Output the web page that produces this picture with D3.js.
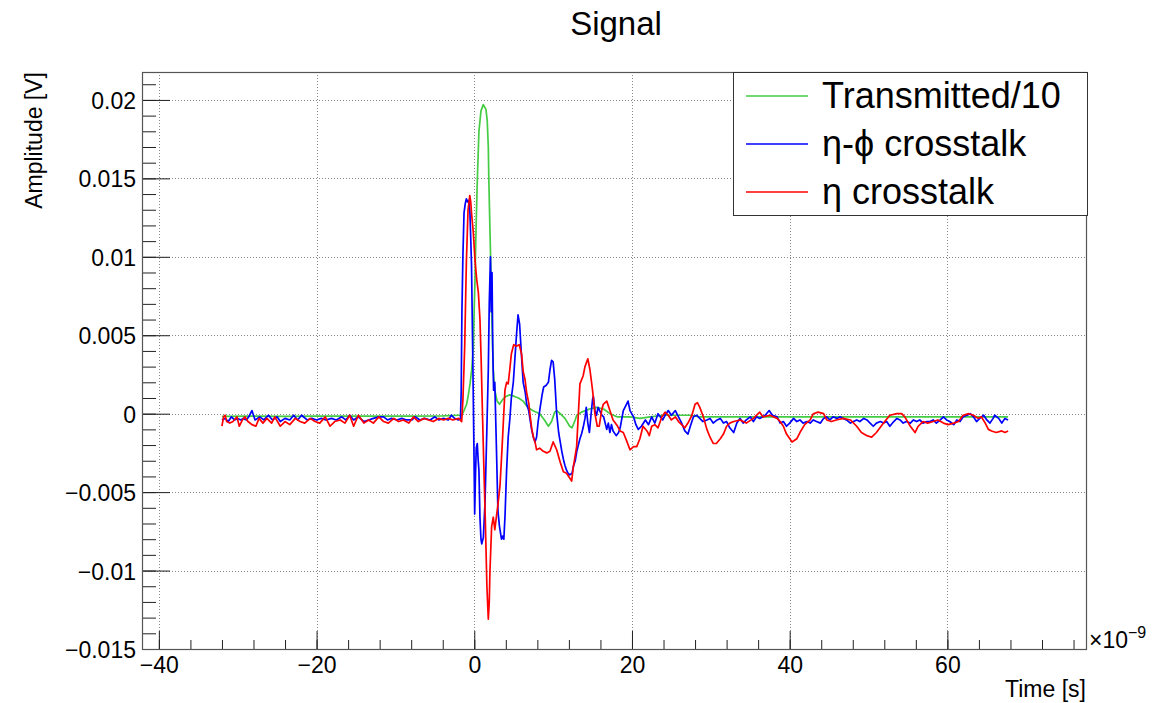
<!DOCTYPE html>
<html>
<head>
<meta charset="utf-8">
<script src="https://cdn.jsdelivr.net/npm/d3@7"></script>
<style>
  body { margin: 0; background: #fff; }
  svg { font-family: "Liberation Sans", Arial, Helvetica, sans-serif; }
</style>
</head>
<body>
<svg id="chart" width="1174" height="703"></svg>
<script>
"use strict"

// times are in ns (axis carries the x10^-9), amplitudes in V

var greenTime = [-32.0, -28.0, -24.0, -20.0, -16.0, -12.0, -8.0, -4.0, -2.0, -1.6,
  -1.3, -0.97, -0.75, -0.54, -0.33, -0.12, -0.03, 0.09, 0.22, 0.38, 0.59, 0.85,
  1.14, 1.48, 1.64, 1.78, 1.85, 1.99, 2.07, 2.2, 2.41, 2.6, 2.9, 3.2, 3.6, 4.0,
  4.5, 5.1, 5.6, 6.2, 6.8, 7.4, 8.3, 8.9, 9.4, 9.8, 10.2, 10.45, 10.9, 11.5,
  12.1, 12.4, 12.8, 13.0, 13.6, 14.6, 15.5, 16.4, 17.2, 18.1, 19.7, 21.0, 22.3,
  24.0, 25.7, 27.4, 28.6, 30.8, 32.5, 36.0, 40.0, 44.0, 48.0, 52.0, 56.0, 60.0,
  64.0, 67.7]
var greenAmp = [-0.00017, -0.00015, -0.00017, -0.00015, -0.00016, -0.00015, -0.00016, -0.00014, -0.0001, -0.0001,
  0.0002, 0.0006, 0.0012, 0.0019, 0.0028, 0.0042, 0.0063, 0.0085, 0.0117, 0.0148, 0.0180, 0.0193,
  0.0197, 0.0194, 0.0187, 0.0170, 0.0148, 0.0117, 0.0100, 0.0065, 0.0028, 0.0015, 0.0008, 0.0006, 0.0009, 0.0011,
  0.0012, 0.0011, 0.0010, 0.0008, 0.0004, 0.0002, 0.0000, -0.0004, -0.0008, -0.0005, 0.0001, 0.0002, 0.0000, -0.0003,
  -0.0008, -0.0009, -0.0004, -0.0001, 0.0001, 0.0003, 0.0004, 0.0003, 0.0000, -0.0002, -0.0002, -0.0003, -0.0002,
  -0.0001, -0.0001, -0.0001, -0.0002, -0.0002, -0.0002, -0.0002, -0.0002, -0.0002, -0.0002, -0.0002, -0.0002, -0.0002,
  -0.0002, -0.0002]

var blueTime = [-32.0, -31.6, -31.2, -30.8, -30.4, -30.0, -29.6, -29.3, -28.9, -28.6,
  -28.2, -27.8, -27.5, -27.2, -26.7, -26.1, -25.6, -25.0, -24.6, -24.0,
  -23.4, -22.9, -22.4, -21.9, -21.2, -20.6, -20.0, -19.4, -18.8, -18.1,
  -17.5, -16.8, -16.3, -15.8, -15.3, -14.7, -14.0, -13.4, -12.8, -12.1,
  -11.5, -11.0, -10.5, -9.8, -9.2, -8.6, -7.9, -7.5, -6.9, -6.3,
  -5.6, -5.0, -4.5, -3.9, -3.3, -2.9, -2.5, -2.0, -1.75,
  -1.66, -1.57, -1.44, -1.3, -1.14, -1.0, -0.85, -0.7, -0.55, -0.45,
  -0.35, -0.2, -0.05, 0.05, 0.15, 0.25, 0.38, 0.5, 0.59, 0.72,
  0.85, 0.95, 1.15, 1.36, 1.57, 1.78, 1.9, 2.05, 2.15, 2.25,
  2.35, 2.45, 2.6, 2.8, 3.0, 3.2, 3.45, 3.6, 3.75, 3.9,
  4.1, 4.3, 4.5, 4.7, 4.95, 5.15, 5.35, 5.55, 5.75, 5.95,
  6.2, 6.45, 6.65, 6.9, 7.27, 7.5, 7.7, 7.9, 8.1, 8.33,
  8.6, 8.8, 9.1, 9.4, 9.6, 9.8, 10.0, 10.2, 10.45, 10.7,
  10.9, 11.1, 11.3, 11.5, 11.7, 11.9, 12.1, 12.4, 12.6, 12.8,
  13.0, 13.2, 13.4, 13.6, 13.8, 14.04, 14.2, 14.4, 14.6, 14.8,
  15.0, 15.1, 15.3, 15.5, 15.7, 15.9, 16.2, 16.4, 16.8, 17.0,
  17.2, 17.4, 17.6, 18.0, 18.3, 18.5, 18.9, 19.3, 19.5, 19.75,
  20.2, 20.5, 20.8, 21.2, 21.7, 22.1, 22.5, 22.9, 23.3, 23.9,
  24.2, 24.6, 25.0, 25.5, 25.9, 26.3, 26.7, 27.1, 27.4, 27.8,
  28.2, 28.6, 29.0, 29.5, 29.9, 30.3, 30.8, 31.2, 31.6, 32.0,
  32.4, 32.9, 33.3, 33.7, 34.1, 34.5, 35.0, 35.4, 35.8, 36.2,
  36.9, 37.4, 37.8, 38.4, 38.8, 39.2, 39.6, 40.0, 40.5, 40.9,
  41.3, 41.7, 42.2, 42.6, 43.0, 43.4, 43.9, 44.3, 44.7, 45.1,
  45.5, 46.0, 46.4, 46.8, 47.2, 47.7, 48.1, 48.5, 48.9, 49.4,
  49.8, 50.2, 50.6, 51.0, 51.5, 51.9, 52.3, 52.7, 53.2, 53.6,
  54.0, 54.4, 54.8, 55.3, 55.7, 56.1, 56.5, 56.9, 57.4, 57.8,
  58.2, 58.6, 59.1, 59.5, 59.9, 60.3, 60.8, 61.2, 61.6, 62.0,
  62.5, 62.9, 63.3, 63.7, 64.1, 64.6, 65.0, 65.4, 65.8, 66.0,
  66.5, 66.9, 67.3, 67.7]
var blueAmp = [-0.0004, -0.0003, -0.0005, -0.0002, -0.0004, -0.0003, -0.0004, -0.0003, -0.0004, -0.0002,
  0.0002, -0.0004, -0.0003, -0.0002, -0.0004, -0.0001, -0.0004, -0.0002, -0.0005, -0.0003,
  -0.0004, -0.0001, -0.0004, -0.0001, -0.0004, -0.0003, -0.0004, -0.0003, -0.0004, -0.0003,
  -0.0004, -0.0002, -0.0004, -0.0001, -0.0004, -0.0002, -0.0005, -0.0004, -0.0003, -0.0002,
  -0.0002, -0.0004, -0.0003, -0.0004, -0.0003, -0.0004, -0.0004, -0.0002, -0.0004, -0.0003,
  -0.0004, -0.0002, -0.0004, -0.0003, -0.0004, -0.0001, -0.0003, -0.0004, -0.0003,
  0.0014, 0.0064, 0.0101, 0.0128, 0.0134, 0.0137, 0.0135, 0.0136, 0.0128, 0.0112,
  0.0095, 0.0040, -0.0020, -0.0064, -0.0040, -0.0022, -0.0019, -0.0030, -0.0036, -0.0066,
  -0.0080, -0.0083, -0.0079, -0.0057, -0.0015, 0.0028, 0.0070, 0.0100, 0.0065, 0.0090,
  0.0040, 0.0015, 0.0020, -0.0020, -0.0062, -0.0072, -0.0080, -0.0078, -0.0080, -0.0065,
  -0.0036, -0.0015, -0.0004, 0.0010, 0.0020, 0.0035, 0.0050, 0.0063, 0.0057, 0.0040,
  0.0020, 0.0014, 0.0006, 0.0002, -0.0010, -0.0015, -0.0018, -0.0015, -0.0005, 0.0003,
  0.0012, 0.0017, 0.0018, 0.0020, 0.0028, 0.0034, 0.0033, 0.0022, 0.0000, -0.0012,
  -0.0018, -0.0024, -0.0029, -0.0033, -0.0036, -0.0038, -0.0039, -0.0038, -0.0033, -0.0030,
  -0.0024, -0.0020, -0.0016, -0.0013, -0.0009, -0.0003, 0.0004, -0.0006, -0.0012, -0.0001,
  0.0009, 0.0011, 0.0002, -0.0001, 0.0004, 0.0002, -0.0001, -0.0002, -0.0010, -0.0006,
  -0.0012, -0.0007, -0.0011, -0.0014, -0.0012, -0.0009, 0.0002, 0.0006, 0.0008, 0.0002,
  -0.0002, -0.0007, -0.0010, -0.0008, -0.0004, -0.0007, -0.0002, -0.0006, 0.0000, -0.0004,
  -0.0001, 0.0002, -0.0001, 0.0002, -0.0002, -0.0006, -0.0011, -0.0013, -0.0008, -0.0002,
  -0.0001, -0.0003, -0.0005, -0.0004, -0.0003, -0.0006, -0.0004, -0.0003, -0.0006, -0.0005,
  -0.0009, -0.0012, -0.0006, -0.0003, -0.0006, -0.0004, -0.0002, -0.0005, -0.0002, -0.0003,
  -0.0001, 0.0002, -0.0001, -0.0002, -0.0006, -0.0005, -0.0008, -0.0006, -0.0003, -0.0005,
  -0.0004, -0.0006, -0.0005, -0.0006, -0.0004, -0.0005, -0.0006, -0.0003, -0.0002, -0.0004,
  -0.0002, -0.0003, -0.0002, -0.0003, -0.0004, -0.0006, -0.0005, -0.0004, -0.0005, -0.0003,
  -0.0004, -0.0006, -0.0008, -0.0006, -0.0005, -0.0006, -0.0005, -0.0008, -0.0005, -0.0003,
  -0.0004, -0.0006, -0.0005, -0.0006, -0.0004, -0.0005, -0.0004, -0.0006, -0.0005, -0.0005,
  -0.0004, -0.0006, -0.0004, -0.0002, -0.0004, -0.0005, -0.0007, -0.0004, -0.0005, -0.0002,
  -0.0001, 0.0000, -0.0002, -0.0005, -0.0003, -0.0001, -0.0004, -0.0006, -0.0003, -0.0001,
  -0.0003, -0.0006, -0.0003, -0.0004]

var redTime = [-32.0, -31.8, -31.6, -31.4, -31.0, -30.6, -30.1, -29.8, -29.4, -29.1,
  -28.7, -28.2, -27.7, -27.3, -26.8, -26.3, -25.7, -25.3, -24.6, -24.0,
  -23.4, -22.7, -22.1, -21.5, -20.8, -20.2, -19.6, -18.9, -18.3, -17.7,
  -17.0, -16.4, -15.8, -15.3, -14.7, -14.0, -13.4, -12.8, -12.1, -11.5,
  -10.9, -10.2, -9.6, -9.0, -8.3, -7.7, -7.1, -6.4, -5.8, -5.2,
  -4.5, -3.9, -3.3, -2.7, -2.0, -1.6,
  -1.44, -1.22, -1.0, -0.79, -0.57, -0.45, -0.35, -0.13, 0.09, 0.3,
  0.52, 0.72, 0.87, 1.05, 1.22, 1.4, 1.6, 1.78, 1.9, 1.99,
  2.2, 2.41, 2.6, 2.8, 3.0, 3.26, 3.5, 3.7, 3.89, 4.1,
  4.3, 4.5, 4.7, 5.0, 5.33, 5.7, 6.0, 6.2, 6.43, 6.65,
  6.9, 7.1, 7.3, 7.5, 7.7, 7.9, 8.3, 8.75, 9.2, 9.6,
  10.0, 10.45, 10.9, 11.3, 11.7, 12.1, 12.35, 12.56, 12.98, 13.2,
  13.4, 13.8, 14.04, 14.4, 14.67, 15.0, 15.3, 15.6, 15.85, 16.15,
  16.36, 16.8, 17.2, 17.6, 18.05, 18.5, 18.9, 19.3, 19.75, 20.2,
  20.6, 21.0, 21.4, 21.9, 22.2, 22.5, 22.9, 23.3, 23.8, 24.2,
  24.6, 25.0, 25.5, 25.9, 26.3, 26.7, 27.1, 27.6, 28.0, 28.3,
  28.6, 29.05, 29.5, 29.9, 30.3, 30.7, 31.2, 31.6, 32.0, 32.4,
  32.9, 33.7, 34.5, 35.4, 36.2, 36.6, 37.5, 38.4, 38.8, 39.2,
  39.6, 40.3, 40.9, 41.3, 41.9, 42.6, 43.0, 43.6, 44.3, 44.7,
  45.3, 45.9, 46.8, 47.7, 48.5, 49.1, 49.8, 50.4, 51.0, 51.9,
  52.7, 53.6, 54.2, 54.6, 55.3, 55.9, 56.3, 56.9, 57.5, 58.2,
  58.8, 59.5, 60.1, 60.8, 61.4, 62.0, 62.7, 63.3, 63.9, 64.3,
  64.8, 65.2, 65.6, 66.2, 66.9, 67.3, 67.7]
var redAmp = [-0.0008, -0.0002, -0.0001, -0.0005, -0.0006, -0.0005, -0.0002, -0.0008, -0.0004, -0.0002,
  -0.0005, -0.0007, -0.0008, -0.0003, -0.0006, -0.0003, -0.0006, -0.0002, -0.0008, -0.0005,
  -0.0007, -0.0003, -0.0005, -0.0006, -0.0003, -0.0005, -0.0006, -0.0002, -0.0008, -0.0005,
  -0.0004, -0.0006, -0.0001, -0.0008, -0.0001, -0.0006, -0.0004, -0.0006, -0.0002, -0.0005,
  -0.0006, -0.0003, -0.0005, -0.0004, -0.0006, -0.0002, -0.0005, -0.0003, -0.0004, -0.0005,
  -0.0003, -0.0004, -0.0003, -0.0004, -0.0003, -0.0005,
  0.0009, 0.0042, 0.0097, 0.0130, 0.0139, 0.0135, 0.0128, 0.0116, 0.0098, 0.0086,
  0.0077, 0.0060, 0.0035, -0.0002, -0.0035, -0.0068, -0.0110, -0.0131, -0.0120, -0.0100,
  -0.0072, -0.0066, -0.0074, -0.0066, -0.0058, -0.0046, -0.0024, -0.0004, 0.0015, 0.0020,
  0.0019, 0.0028, 0.0038, 0.0044, 0.0043, 0.0044, 0.0038, 0.0027, 0.0022, 0.0013,
  0.0007, -0.0002, -0.0010, -0.0015, -0.0018, -0.0023, -0.0022, -0.0024, -0.0025, -0.0024,
  -0.0018, -0.0023, -0.0031, -0.0037, -0.0038, -0.0041, -0.0043, -0.0034, -0.0021, 0.0000,
  0.0019, 0.0024, 0.0030, 0.0035, 0.0028, 0.0015, 0.0000, -0.0008, -0.0008, 0.0002,
  0.0006, 0.0008, 0.0002, -0.0004, -0.0007, -0.0011, -0.0012, -0.0017, -0.0023, -0.0021,
  -0.0021, -0.0016, -0.0008, -0.0011, -0.0014, -0.0008, -0.0007, -0.0009, -0.0002, 0.0001,
  -0.0001, -0.0004, -0.0002, -0.0005, -0.0007, -0.0009, -0.0006, -0.0001, 0.0006, 0.0007,
  0.0004, -0.0002, -0.0010, -0.0015, -0.0019, -0.0019, -0.0016, -0.0013, -0.0008, -0.0006,
  -0.0005, -0.0004, -0.0006, -0.0003, 0.0001, -0.0002, -0.0001, -0.0003, -0.0005, -0.0008,
  -0.0013, -0.0018, -0.0016, -0.0012, -0.0007, -0.0004, 0.0000, 0.0001, 0.0000, -0.0004,
  -0.0005, -0.0004, -0.0003, -0.0004, -0.0008, -0.0012, -0.0014, -0.0015, -0.0012, -0.0006,
  -0.0001, 0.0000, 0.0000, -0.0002, -0.0008, -0.0012, -0.0008, -0.0005, -0.0006, -0.0005,
  -0.0004, -0.0006, -0.0007, -0.0006, -0.0005, -0.0001, 0.0000, -0.0001, -0.0003, -0.0002,
  -0.0006, -0.0010, -0.0011, -0.0012, -0.0011, -0.0012, -0.0011]

var seriesNames = ["Transmitted/10", "\u03b7-\u03d5 crosstalk", "\u03b7 crosstalk"]
var seriesColors = ["#44cc44", "#0000ff", "#ff0000"]

var xTickValues = [-40, -20, 0, 20, 40, 60]
var xTickLabels = ["\u221240", "\u221220", "0", "20", "40", "60"]
var yTickValues = [-0.015, -0.01, -0.005, 0, 0.005, 0.01, 0.015, 0.02]
var yTickLabels = ["\u22120.015", "\u22120.01", "\u22120.005", "0", "0.005", "0.01", "0.015", "0.02"]

var frame = { left: 142, right: 1086, top: 72, bottom: 649 }
var fontSize = 23

var svg = d3.select("#chart")

var x = d3.scaleLinear().domain([-42.14, 77.58]).range([frame.left, frame.right])
var y = d3.scaleLinear().domain([-0.015, 0.02178]).range([frame.bottom, frame.top])

var plotW = frame.right - frame.left
var plotH = frame.bottom - frame.top

// dotted grid at the major ticks
var grid = svg.append("g").attr("class", "grid")
grid.selectAll(".vgrid")
  .data(xTickValues)
  .enter().append("line")
  .attr("x1", function(d){ return Math.round(x(d)) + 0.5 })
  .attr("x2", function(d){ return Math.round(x(d)) + 0.5 })
  .attr("y1", frame.top)
  .attr("y2", frame.bottom)
grid.selectAll(".hgrid")
  .data(yTickValues)
  .enter().append("line")
  .attr("y1", function(d){ return Math.round(y(d)) + 0.5 })
  .attr("y2", function(d){ return Math.round(y(d)) + 0.5 })
  .attr("x1", frame.left)
  .attr("x2", frame.right)
grid.selectAll("line")
  .attr("stroke", "#888")
  .attr("stroke-width", 1)
  .attr("stroke-dasharray", "1,2")

// curves
svg.append("clipPath").attr("id", "plotClip")
  .append("rect")
  .attr("x", frame.left).attr("y", frame.top)
  .attr("width", plotW).attr("height", plotH)

var line = d3.line()
  .x(function(d){ return x(d[0]) })
  .y(function(d){ return y(d[1]) })

var series = [
  { time: greenTime, amp: greenAmp },
  { time: blueTime, amp: blueAmp },
  { time: redTime, amp: redAmp }
]

// ROOT draws the last graph on top: green, then blue, then red
svg.append("g").attr("clip-path", "url(#plotClip)")
  .selectAll("path")
  .data(series)
  .enter().append("path")
  .attr("fill", "none")
  .attr("stroke", function(d, i){ return seriesColors[i] })
  .attr("stroke-width", 1.7)
  .attr("stroke-linejoin", "round")
  .attr("d", function(s){ return line(s.time.map(function(t, i){ return [t, s.amp[i]] })) })

// ticks drawn inside the frame, ROOT style
var yMinor = d3.range(-15, 22).map(function(k){ return k / 1000 })
var xMinor = d3.range(-40, 77, 4)

var yAxisMinor = d3.axisLeft(y).tickValues(yMinor).tickSize(-14).tickFormat("")
var yAxis = d3.axisLeft(y).tickValues(yTickValues).tickSize(-28).tickPadding(6)
  .tickFormat(function(d, i){ return yTickLabels[i] })
var xAxisMinor = d3.axisBottom(x).tickValues(xMinor).tickSize(-9).tickFormat("")
var xAxis = d3.axisBottom(x).tickValues(xTickValues).tickSize(-18).tickPadding(8)
  .tickFormat(function(d, i){ return xTickLabels[i] })

function styleAxis(g) {
  g.select(".domain").remove()
  g.selectAll(".tick line").attr("stroke", "#222").attr("stroke-width", 1)
  g.selectAll("text")
    .attr("fill", "#000")
    .style("font-size", fontSize + "px")
    .style("font-family", "'Liberation Sans', Arial, sans-serif")
}

svg.append("g").attr("transform", "translate(" + frame.left + ",0)").call(yAxisMinor).call(styleAxis)
svg.append("g").attr("transform", "translate(" + frame.left + ",0)").call(yAxis).call(styleAxis)
  .selectAll("text").attr("dy", "0.37em")
svg.append("g").attr("transform", "translate(0," + frame.bottom + ")").call(xAxisMinor).call(styleAxis)
svg.append("g").attr("transform", "translate(0," + frame.bottom + ")").call(xAxis).call(styleAxis)

// frame box
svg.append("rect")
  .attr("x", frame.left + 0.5).attr("y", frame.top + 0.5)
  .attr("width", plotW).attr("height", plotH)
  .attr("fill", "none")
  .attr("stroke", "#555")
  .attr("stroke-width", 1.2)

// axis titles and exponent
svg.append("text")
  .attr("x", 616).attr("y", 35)
  .attr("text-anchor", "middle")
  .style("font-size", "33px")
  .text("Signal")

svg.append("text")
  .attr("transform", "translate(42," + frame.top + ") rotate(-90)")
  .attr("text-anchor", "end")
  .style("font-size", fontSize + "px")
  .text("Amplitude [V]")

svg.append("text")
  .attr("x", frame.right).attr("y", 697)
  .attr("text-anchor", "end")
  .style("font-size", fontSize + "px")
  .text("Time [s]")

var expo = svg.append("text")
  .attr("x", frame.right + 3).attr("y", 648)
  .style("font-size", fontSize + "px")
expo.append("tspan").text("\u00d710")
expo.append("tspan").attr("dy", -10).style("font-size", "16px").text("\u22129")

// legend
var legend = svg.append("g").attr("class", "legend")
legend.append("rect")
  .attr("x", 733.5).attr("y", 72.5)
  .attr("width", 354).attr("height", 143)
  .attr("fill", "#fff")
  .attr("stroke", "#333")
  .attr("stroke-width", 1)

var entryY = d3.scalePoint().domain(d3.range(seriesNames.length)).range([96, 192])

var entries = legend.selectAll(".entry")
  .data(seriesNames)
  .enter().append("g")
  .attr("transform", function(d, i){ return "translate(0," + entryY(i) + ")" })

entries.append("line")
  .attr("x1", 746).attr("x2", 808)
  .attr("y1", 0).attr("y2", 0)
  .attr("stroke", function(d, i){ return seriesColors[i] })
  .attr("stroke-width", 1.6)

entries.append("text")
  .attr("x", 822).attr("y", 12)
  .style("font-size", "36px")
  .text(function(d){ return d })
</script>
</body>
</html>
